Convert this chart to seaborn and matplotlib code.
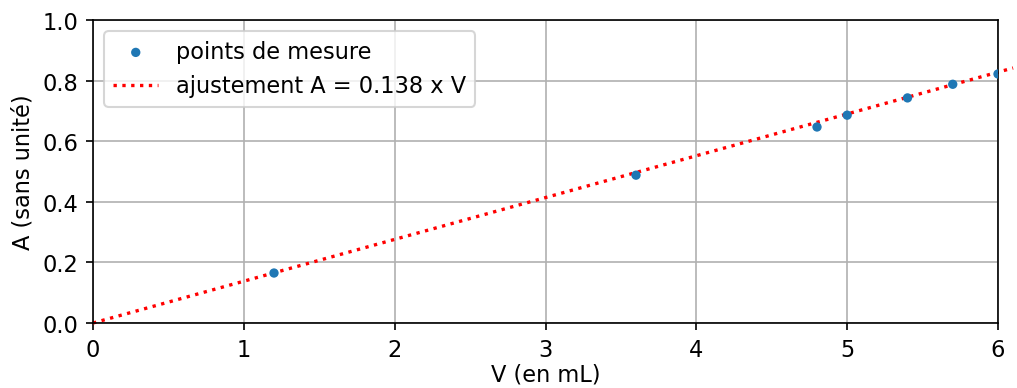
import numpy as np
import pandas as pd
import matplotlib
matplotlib.use("Agg")
import matplotlib.pyplot as plt
import seaborn as sns

V = [1.2, 3.6, 4.8, 5.0, 5.4, 5.7, 6.0]
A = [0.165, 0.488, 0.647, 0.686, 0.743, 0.788, 0.822]
slope = 0.138
fit_V = [0.0, 6.1]
fit_A = [slope * v for v in fit_V]

df_pts = pd.DataFrame({"V": V, "A": A})
df_fit = pd.DataFrame({"V": fit_V, "A": fit_A})

plt.rcParams["font.size"] = 10.8

fig = plt.figure(figsize=(6.78, 2.593), dpi=150)
ax = fig.add_axes([93/1017, 1-324/389, (998-93)/1017, (324-21)/389])

sns.scatterplot(data=df_pts, x="V", y="A", ax=ax, color="#1f77b4", s=20,
                edgecolor="none", label="points de mesure", zorder=3, clip_on=True)
sns.lineplot(data=df_fit, x="V", y="A", ax=ax, color="red", linestyle=":",
             linewidth=1.6, label="ajustement A = 0.138 x V", clip_on=False, zorder=2)

ax.set_xlim(0, 6)
ax.set_ylim(0, 1.0)
ax.set_xticks(range(0, 7))
ax.set_yticks(np.arange(0, 1.01, 0.2))
ax.grid(True)
ax.set_axisbelow(True)
ax.set_xlabel("V (en mL)", labelpad=1)
ax.set_ylabel("A (sans unité)")
ax.legend(loc="upper left")

fig.savefig("out.png", dpi=150)
